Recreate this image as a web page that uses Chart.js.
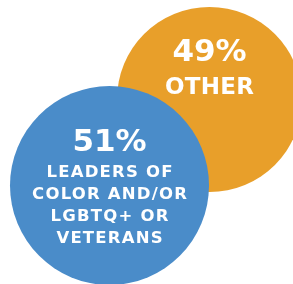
<!DOCTYPE html>
<html>
<head>
<meta charset="utf-8">
<script src="https://cdn.jsdelivr.net/npm/chart.js@4/dist/chart.umd.min.js"></script>
<style>
  html, body { margin: 0; padding: 0; background: #fff; }
  #wrap { width: 293px; height: 284px; }
</style>
</head>
<body>
<div id="wrap"><canvas id="bubbles"></canvas></div>
<script>
// data
const categories = ['LEADERS OF COLOR AND/OR LGBTQ+ OR VETERANS', 'OTHER'];
const shares = [51, 49];
const labelLines = [
  ['LEADERS OF', 'COLOR AND/OR', 'LGBTQ+ OR', 'VETERANS'],
  ['OTHER']
];

// layout (canvas space, y down)
const centers = [[109.5, 185.5], [209.5, 99.5]];
const radii = [99.5, 92.5];
const colors = ['#4a8cc9', '#e89f2a'];

// text offsets from bubble centre: [pct baseline, first line baseline, line step, label font, spacing]
const textLayout = [
  { pct: -34.5, first: -8.5, step: 22, size: 16.5, spacing: 1.2 },
  { pct: -38.5, first: -5.5, step: 22, size: 23, spacing: 0.3 }
];

const textPlugin = {
  id: 'bubbleText',
  afterDatasetsDraw(chart) {
    const ctx = chart.ctx;
    ctx.save();
    ctx.fillStyle = '#fff';
    ctx.textAlign = 'center';
    ctx.textBaseline = 'alphabetic';
    chart.data.datasets.forEach((ds, i) => {
      const pt = chart.getDatasetMeta(i).data[0];
      const t = textLayout[i];
      ctx.letterSpacing = '0px';
      ctx.font = 'bold 31px "DejaVu Sans"';
      ctx.fillText(shares[i] + '%', pt.x, pt.y + t.pct);
      ctx.letterSpacing = t.spacing + 'px';
      ctx.font = 'bold ' + t.size + 'px "DejaVu Sans"';
      labelLines[i].forEach((l, k) =>
        ctx.fillText(l, pt.x + t.spacing / 2, pt.y + t.first + k * t.step));
    });
    ctx.restore();
  }
};

new Chart(document.getElementById('bubbles'), {
  type: 'bubble',
  data: {
    labels: categories,
    datasets: categories.map((c, i) => ({
      label: c,
      data: [{ x: centers[i][0], y: centers[i][1], r: radii[i], v: shares[i] }],
      backgroundColor: colors[i],
      borderWidth: 0,
      hoverBorderWidth: 0,
      hoverRadius: 0,
      clip: false
    }))
  },
  options: {
    responsive: true,
    maintainAspectRatio: false,
    animation: false,
    events: [],
    layout: { padding: 0, autoPadding: false },
    plugins: { legend: { display: false }, tooltip: { enabled: false } },
    scales: {
      x: { display: false, min: 0, max: 293 },
      y: { display: false, min: 0, max: 284, reverse: true }
    }
  },
  plugins: [textPlugin]
});
</script>
</body>
</html>
